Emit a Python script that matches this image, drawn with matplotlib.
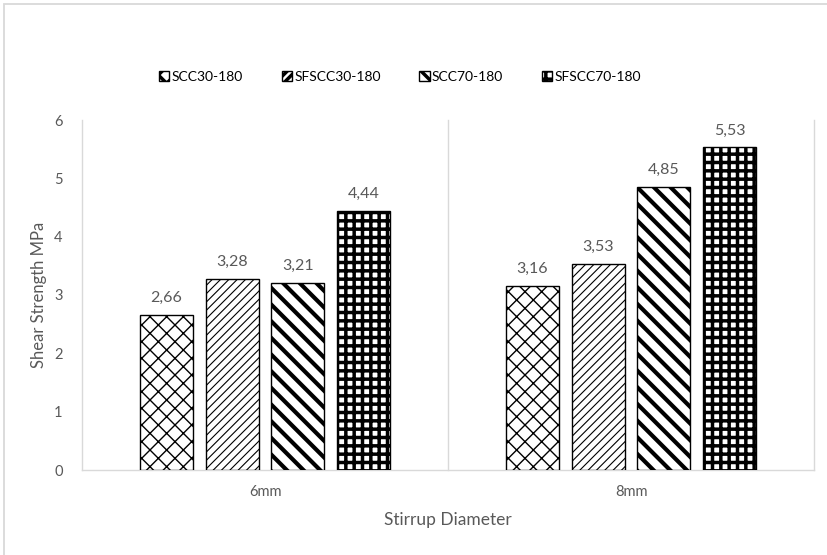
import matplotlib
matplotlib.use("Agg")
import matplotlib.pyplot as plt
from matplotlib.patches import Rectangle
import numpy as np

plt.rcParams['font.family'] = ['Lato', 'DejaVu Sans']

categories = ["6mm", "8mm"]
series = ["SCC30-180", "SFSCC30-180", "SCC70-180", "SFSCC70-180"]
values = {
    "SCC30-180": [2.66, 3.16],
    "SFSCC30-180": [3.28, 3.53],
    "SCC70-180": [3.21, 4.85],
    "SFSCC70-180": [4.44, 5.53],
}
yticks = [0, 1, 2, 3, 4, 5, 6]

hatches = ["xx", "////", "\\\\", "++"]
hatch_lw = [1.0, 0.8, 3.0, 2.5]

W, H = 827, 555
fig = plt.figure(figsize=(W / 100, H / 100), dpi=100)
ax = fig.add_axes([82 / W, 1 - 470 / H, (814 - 82) / W, (470 - 120) / H])

grey = "#D9D9D9"
txt = "#595959"

# figure border
fig.patches.append(Rectangle((4 / W, -0.1), 1.2, 1 - 4 / H + 0.1, transform=fig.transFigure,
                             fill=False, edgecolor=grey, linewidth=1.3, zorder=0))

x = np.arange(len(categories))
bw = 0.145
step = 0.18
handles = []
for i, s in enumerate(series):
    plt.rcParams['hatch.linewidth'] = hatch_lw[i]
    off = (i - 1.5) * step
    bars = ax.bar(x + off, values[s], width=bw, color="white", edgecolor="black",
                  hatch=hatches[i], linewidth=1.0, label=s, zorder=3)
    handles.append(bars)
    for xi, v in zip(x + off, values[s]):
        ax.annotate(f"{v:.2f}".replace(".", ","), (xi, v), xytext=(0, 7),
                    textcoords="offset points", ha="center", va="bottom",
                    fontsize=11.5, color=txt)

ax.set_xlim(-0.5, 1.5)
ax.set_ylim(0, 6)
for gx in [-0.5, 0.5, 1.5]:
    ax.plot([gx, gx], [0, 6], color=grey, linewidth=1.0, zorder=1, clip_on=False)

for sp in ["top", "right", "left"]:
    ax.spines[sp].set_visible(False)
ax.spines["bottom"].set_color(grey)
ax.spines["bottom"].set_linewidth(1.0)

ax.set_yticks(yticks)
ax.set_yticklabels([str(t) for t in yticks])
ax.set_xticks(x)
ax.set_xticklabels(categories)
ax.tick_params(axis="both", length=0, labelsize=10.5, colors=txt)
ax.tick_params(axis="y", pad=14)
ax.tick_params(axis="x", pad=11)

ax.set_ylabel("Shear Strength MPa", fontsize=12, color=txt, labelpad=5)
ax.set_xlabel("Stirrup Diameter", fontsize=12.5, color=txt, labelpad=9)

fig.legend(handles=handles, labels=series, loc="center", bbox_to_anchor=(400 / W, 1 - 77 / H),
           ncol=4, frameon=False, fontsize=10, handlelength=0.75, handleheight=0.75,
           handletextpad=0.15, columnspacing=2.8, labelcolor="black")

fig.savefig("out.png", dpi=100)
